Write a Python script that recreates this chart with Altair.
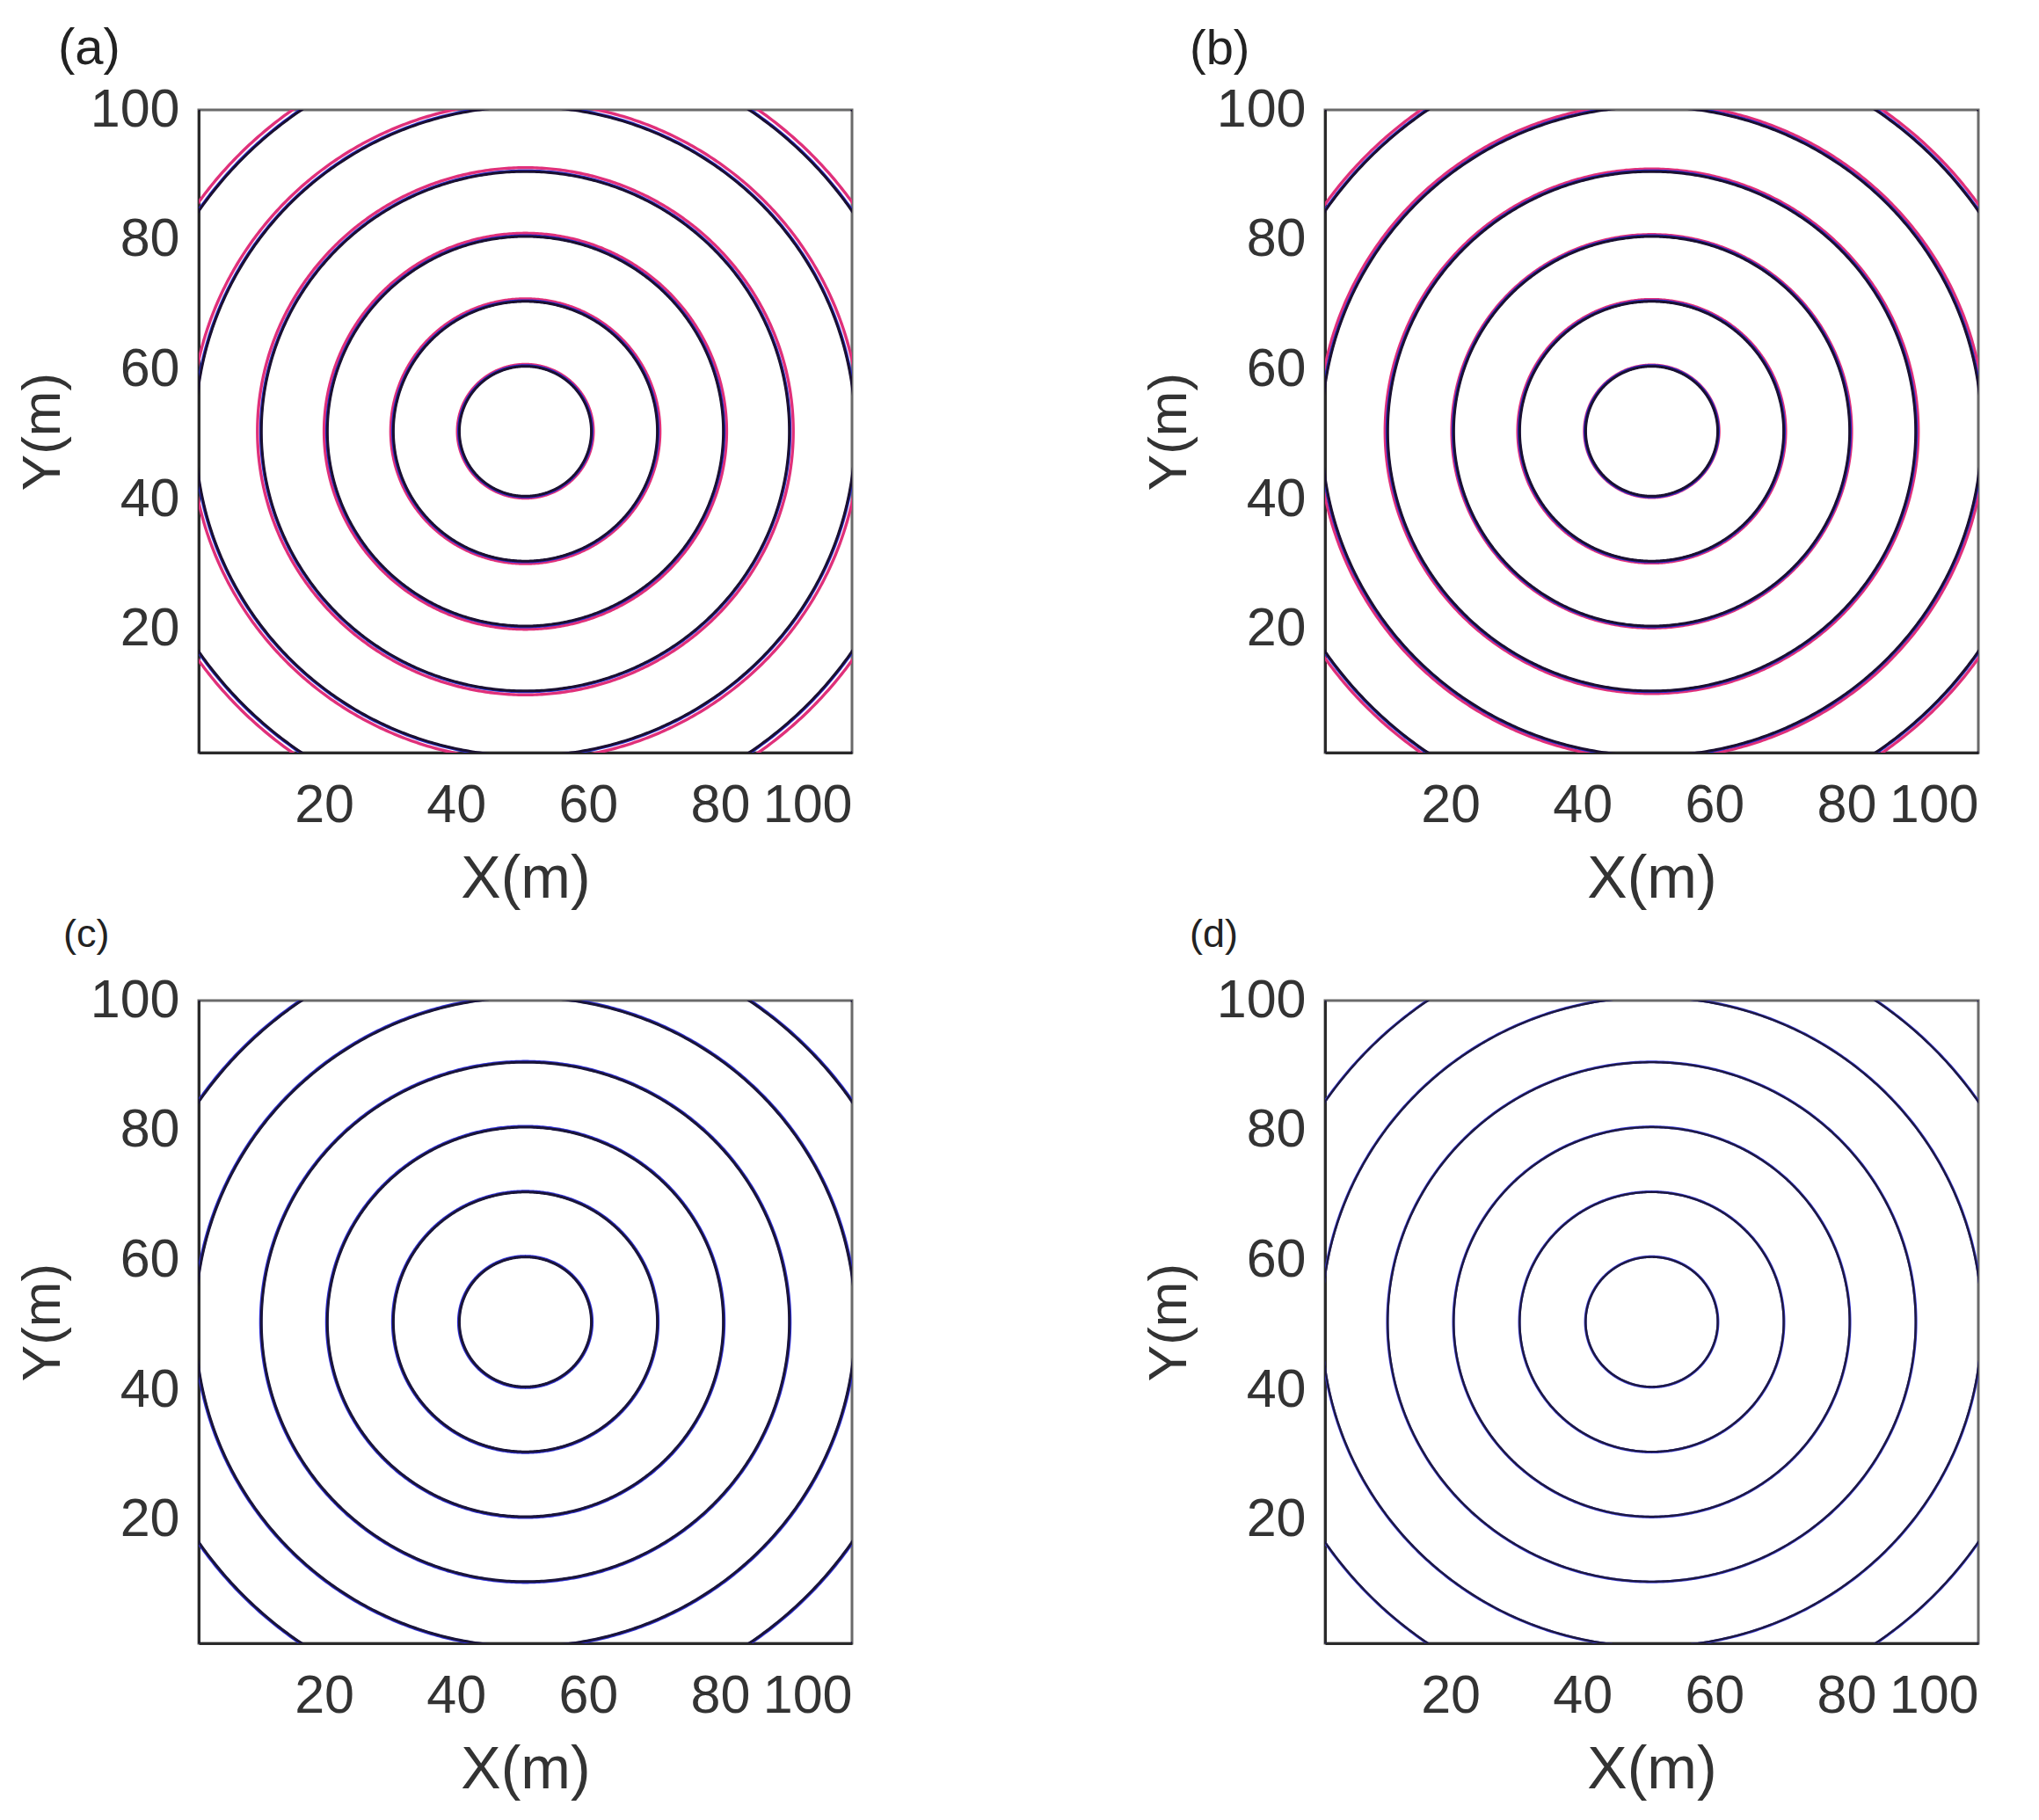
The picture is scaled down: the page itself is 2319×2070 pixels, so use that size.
import numpy as np
import pandas as pd
import altair as alt

# ---- data -----------------------------------------------------------------
CENTER_X = 50.5
CENTER_Y = 50.5
RING_ID = [1, 2, 3, 4, 5, 6, 7]

# contour radii (m) of each curve, per panel
A_RED = [10.3, 20.4, 30.5, 40.6, 50.7, 60.8, 70.8]
A_BLACK = [10.0, 20.0, 30.0, 40.0, 50.0, 60.0, 70.0]
A_BLUE = [10.1, 20.1, 30.1, 40.1, 50.1, 60.1, 70.1]

B_RED = [10.2, 20.3, 30.3, 40.4, 50.5, 60.6, 70.6]
B_BLACK = [10.0, 20.0, 30.0, 40.0, 50.0, 60.0, 70.0]
B_BLUE = [10.1, 20.1, 30.1, 40.1, 50.1, 60.1, 70.1]

C_BLACK = [10.0, 20.0, 30.0, 40.0, 50.0, 60.0, 70.0]
C_BLUE = [10.1, 20.1, 30.1, 40.1, 50.1, 60.1, 70.1]

D_BLACK = [10.0, 20.0, 30.0, 40.0, 50.0, 60.0, 70.0]
D_BLUE = [10.05, 20.05, 30.05, 40.05, 50.05, 60.05, 70.05]

PANEL_LABELS = ["(a)", "(b)", "(c)", "(d)"]
TICKS = [20, 40, 60, 80, 100]
X_TITLE = "X(m)"
Y_TITLE = "Y(m)"

FONT = "Liberation Sans"
W, H = 743, 731

ANG = np.linspace(0.0, 2.0 * np.pi, 721)


def ring_table(radii):
    rows = []
    for rid, r in zip(RING_ID, radii):
        for i, a in enumerate(ANG):
            rows.append({"ring": rid, "i": i,
                         "x": CENTER_X + r * np.cos(a),
                         "y": CENTER_Y + r * np.sin(a)})
    return pd.DataFrame(rows)


xs = alt.Scale(domain=[1, 100], nice=False, zero=False)
ys = alt.Scale(domain=[1, 100], nice=False, zero=False)


def curve(radii, color, width):
    return alt.Chart(ring_table(radii)).mark_line(
        clip=True, color=color, strokeWidth=width
    ).encode(
        x=alt.X("x:Q", scale=xs, axis=alt.Axis(values=TICKS, title=X_TITLE,
                                               labelPadding=30, titlePadding=20,
                                               titleFontSize=68)),
        y=alt.Y("y:Q", scale=ys, axis=alt.Axis(values=TICKS, title=Y_TITLE,
                                               labelPadding=22, titlePadding=22,
                                               titleFontSize=62)),
        detail="ring:N",
        order="i:Q",
    )


def panel(layers, label, label_size, dx, offset):
    return alt.layer(*layers).properties(
        width=W, height=H,
        title=alt.TitleParams(label, anchor="start", frame="group", dx=dx,
                              offset=offset, fontSize=label_size,
                              fontWeight="normal", font=FONT, color="#222222"),
    )


pa = panel([curve(A_RED, "#e0307a", 3.4), curve(A_BLUE, "#2a2ad0", 3.4),
            curve(A_BLACK, "#1a1030", 3.0)], PANEL_LABELS[0], 58, -160, 9)
pb = panel([curve(B_RED, "#e0307a", 3.4), curve(B_BLUE, "#2a2ad0", 3.4),
            curve(B_BLACK, "#1a1030", 3.0)], PANEL_LABELS[1], 56, -154, 9)
pc = panel([curve(C_BLUE, "#3030d8", 3.6),
            curve(C_BLACK, "#1a1538", 3.0)], PANEL_LABELS[2], 45, -154, 21)
pd_ = panel([curve(D_BLUE, "#3a3ae0", 3.0),
             curve(D_BLACK, "#1e1a40", 2.4)], PANEL_LABELS[3], 45, -154, 21)

top = alt.hconcat(pa, pb, spacing=325)
bottom = alt.hconcat(pc, pd_, spacing=325)

chart = alt.vconcat(top, bottom, spacing=3).configure(
    padding={"left": 7, "top": 17, "right": 5, "bottom": 5}
).configure_view(
    stroke="#6a6a6a", strokeWidth=3
).configure_axis(
    grid=False, ticks=False,
    domainColor="#2a2a2a", domainWidth=3,
    labelFont=FONT, labelFontSize=61, labelColor="#333333",
    titleFont=FONT, titleColor="#333333",
    titleFontWeight="normal",
)

chart.save("out.html", embed_options={"renderer": "svg", "actions": False})
